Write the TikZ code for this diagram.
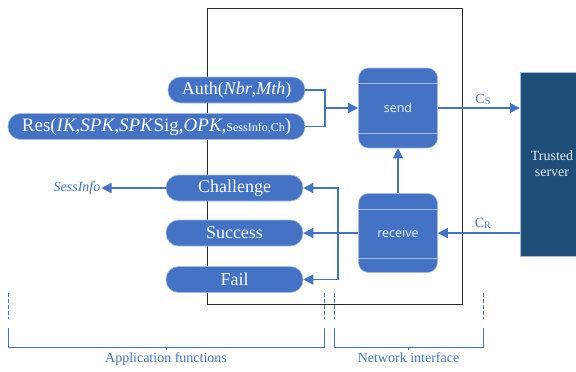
\documentclass[tikz,border=0pt]{standalone}
\usepackage{fontspec}
\setmainfont{Liberation Serif}
\newfontfamily\iofont{Open Sans}
\usetikzlibrary{arrows.meta,positioning}
\definecolor{appblue}{HTML}{4472C4}
\definecolor{srvblue}{HTML}{1F4E79}
\definecolor{rimblue}{HTML}{A9BCE0}
\tikzset{fnbox/.style={rounded corners=12.5pt, fill=appblue, draw=rimblue, line width=0.6pt, text=white, inner sep=0pt, minimum height=26pt, minimum width=137pt, font=\fontsize{18}{20}\selectfont}}
\tikzset{iobox/.style={rounded corners=10pt, fill=appblue, draw=rimblue, line width=0.6pt, text=white!92!appblue, inner sep=0pt, minimum width=79pt, minimum height=79pt, font=\iofont\fontsize{12.5}{14}\selectfont}}
\tikzset{srvbox/.style={fill=srvblue, draw=rimblue, line width=0.4pt, text=white!88!srvblue, align=center, minimum width=64pt, minimum height=184pt, font=\fontsize{14}{16}\selectfont}}
\tikzset{arr/.style={draw=appblue, line width=1.5pt, -{Triangle[length=10pt,width=10pt]}}}
\tikzset{wire/.style={draw=appblue, line width=1.5pt}}
\tikzset{sepline/.style={draw=rimblue, line width=0.6pt}}
\tikzset{brace/.style={draw=appblue, line width=1pt}}
\tikzset{bluetext/.style={text=appblue, inner sep=1pt, font=\fontsize{14}{16}\selectfont}}
\newcommand\iolines[1]{
		\draw[sepline] ([yshift=-16pt]#1.north west) -- ([yshift=-16pt]#1.north east);
		\draw[sepline] ([yshift=15pt]#1.south west) -- ([yshift=15pt]#1.south east);
	}
\newcommand\partbrace[4]{
		\draw[brace, dash pattern=on 4pt off 2pt] (#1,293) -- (#1,319);
		\draw[brace, dash pattern=on 4pt off 2pt] (#2,293) -- (#2,319);
		\draw[brace] (#1,328) -- (#1,347) -- coordinate[midway] (#3-mid) (#2,347) -- (#2,328);
		\draw[brace] (#3-mid) -- ++(0,3) node[below, bluetext, inner sep=2pt] (#3) {#4};
	}
\newcommand\chan[1]{C\raisebox{-1pt}{\fontsize{10}{10}\selectfont #1}}

\begin{document}
\begin{tikzpicture}[x=1pt, y=-1pt]
    \useasboundingbox (0,0) rectangle (576,372);
    \draw[black!85, line width=0.9pt] (207,8) rectangle (462,304);

    \node[fnbox] (auth) at (236.5,90) {Auth(\textit{Nbr},\textit{Mth})};
    \node[fnbox, minimum width=297pt, font=\fontsize{19}{20}\selectfont] (res) at (156.5,126.5) {Res(\textit{IK},\textit{SPK},\textit{SPK}Sig,\textit{OPK},{\fontsize{12}{12}\selectfont SessInfo,Ch})};
    \node[fnbox] (challenge) at (234.5,188) {Challenge};
    \node[fnbox] (success) at (234.5,233) {Success};
    \node[fnbox] (fail) at (234.5,279.5) {Fail};
    \node[bluetext] (sessinfo) at (77,188) {\textit{SessInfo}};

    \node[iobox, minimum height=80pt] (send) at (398,108) {send};
    \node[iobox] (receive) at (398,233) {receive};
    \iolines{send}
    \iolines{receive}
    \node[srvbox] (server) at (552,164) {Trusted\\server};

    \coordinate (join) at (325,108);
    \coordinate (split) at (338,233);
    \draw[wire] (auth.east) -| (join);
    \draw[wire] (res.east) -| (join);
    \draw[arr] (join) -- (send.west);
    \draw[arr] (receive.north) -- (send.south);
    \draw[arr] (send.east) -- node[pos=0.55, above=2pt, bluetext] (cs) {\chan{S}} (send.east -| server.west);
    \draw[arr] (server.west |- receive.east) -- node[pos=0.45, above=3pt, bluetext] (cr) {\chan{R}} (receive.east);
    \draw[wire] (receive.west) -- (split);
    \draw[arr] (split) |- (challenge.east);
    \draw[arr] (split) -- (success.east);
    \draw[arr] (split) |- (fail.east);
    \draw[arr] (challenge.west) -- (sessinfo.east);

    \partbrace{8}{324}{appfn}{Application functions}
    \partbrace{334}{483}{netif}{Network interface}
    \end{tikzpicture}
\end{document}
